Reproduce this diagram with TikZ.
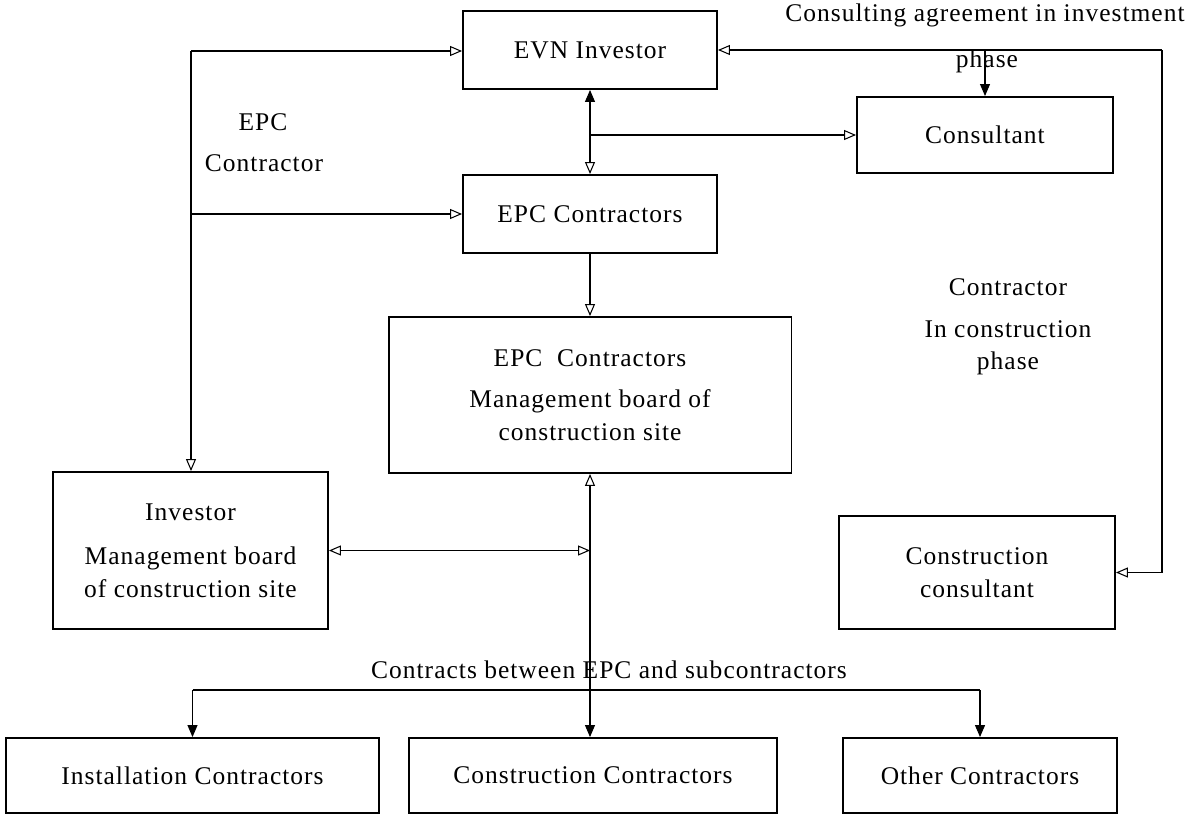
\documentclass[tikz,border=0pt]{standalone}
\usepackage{fontspec}
\setmainfont{Liberation Serif}[LetterSpace=4]
\usetikzlibrary{arrows.meta}

\tikzset{open tip/.tip={Triangle[open,length=2.4mm,width=2mm]},
	full tip/.tip={Triangle[length=2.4mm,width=2mm]}}
\tikzstyle{every picture}+=[>={open tip}]
\tikzstyle{box}=[draw, line width=1.1pt, inner sep=0pt, align=center]
\tikzstyle{lbl}=[inner sep=0pt, anchor=base]
\tikzstyle{link}=[line width=0.6pt]

\begin{document}
\begin{tikzpicture}[x=0.02cm, y=-0.02cm, font=\fontsize{14.5}{18.5}\selectfont]
	\useasboundingbox (0,0) rectangle (1199,815) ;
	\node[box, minimum width=5.08cm, minimum height=1.56cm] (evn) at (590,50) {EVN Investor} ;
	\node[box, minimum width=5.12cm, minimum height=1.52cm] (consultant) at (985,135) {Consultant} ;
	\node[box, minimum width=5.08cm, minimum height=1.56cm] (epc) at (590,214) {EPC Contractors} ;
	\node[box, minimum width=8.06cm, minimum height=3.12cm] (site) at (590,395)
		{EPC~~Contractors\\[5pt] Management board of\\ construction site} ;
	\node[box, minimum width=5.5cm, minimum height=3.14cm] (investor) at (190.5,550.5)
		{Investor\\[7pt] Management board\\ of construction site} ;
	\node[box, minimum width=5.52cm, minimum height=2.26cm] (ccons) at (977,572.5)
		{Construction\\ consultant} ;
	\node[box, minimum width=7.46cm, minimum height=1.5cm] (install) at (192.5,775.5) {Installation Contractors} ;
	\node[box, minimum width=7.36cm, minimum height=1.5cm] (build) at (593,775.5) {Construction Contractors} ;
	\node[box, minimum width=5.48cm, minimum height=1.5cm] (other) at (980,775.5) {Other Contractors} ;

	\node[lbl] (agree) at (985,21) {Consulting agreement in investment} ;
	\node[lbl] (agreephase) at (987,67) {phase} ;
	\node[lbl] (epcword) at (263,130) {EPC} ;
	\node[lbl] (epcrole) at (264,171) {Contractor} ;
	\node[lbl] (consrole) at (1008,295) {Contractor} ;
	\node[lbl] (consin) at (1008,337) {In construction} ;
	\node[lbl] (consphase) at (1008,369) {phase} ;
	\node[lbl] (sub) at (609,678) {Contracts between EPC and subcontractors} ;

	\coordinate (lt) at (191,51) ;
	\coordinate (rt) at (1162,50) ;
	\coordinate (bus) at (0,690) ;

	\draw[link,->] (lt) -- (lt -| evn.west) ;
	\draw[link,->] (lt) |- (epc.west) ;
	\draw[link,->] (lt) -- (lt |- investor.north) ;
	\draw[link,{full tip}-{open tip}] (evn.south) -- (epc.north) ;
	\draw[link,->] (evn.south |- consultant.west) -- (consultant.west) ;
	\draw[link,->] (rt) -- (rt -| evn.east) ;
	\draw[link,-{full tip}] (rt -| consultant.north) -- (consultant.north) ;
	\draw[link,->] (rt) |- (ccons.east) ;
	\draw[link,->] (epc.south) -- (site.north) ;
	\draw[link,{open tip}-{full tip}] (site.south) -- (site.south |- build.north) ;
	\draw[link,<->] (investor.east) -- (investor.east -| site.south) ;
	\draw[link,-{full tip}] (bus -| install.north) -- (install.north) ;
	\draw[link] (bus -| install.north) -- (bus -| other.north) ;
	\draw[link,-{full tip}] (bus -| other.north) -- (other.north) ;
\end{tikzpicture}
\end{document}
